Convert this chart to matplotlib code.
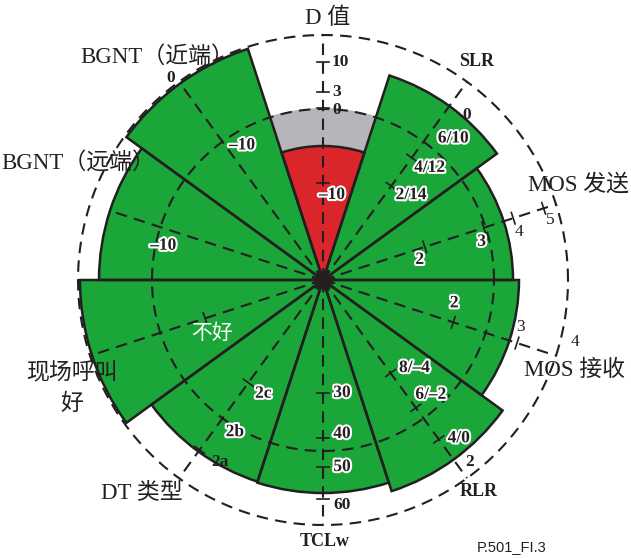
import numpy as np
import matplotlib
matplotlib.use("Agg")
from matplotlib import pyplot as plt
import matplotlib.patheffects as pe

plt.rcParams['font.family'] = ['Liberation Serif', 'Noto Sans CJK SC']

# sectors, counter-clockwise angle of each axis (deg) and reach of each sector
sector_names = ['D 值', 'SLR', 'MOS 发送', 'MOS 接收', 'RLR', 'TCLw',
                'DT 类型', '现场呼叫', 'BGNT（远端）', 'BGNT（近端）']
sector_deg = [90, 54, 18, -18, -54, -90, -126, -162, 162, 126]
sector_r = [172, 215, 190, 196, 222, 213, 212, 243, 224, 243]
d_red_r = 134
axis_end = [245, 245, 246, 246, 245, 244, 244, 242, 224, 242]

# scale marks along every axis
d_ticks = ['10', '3', '0', '–10']
d_tick_r = [218, 188, 172, 97]
slr_ticks = ['2/14', '4/12', '6/10', '0']
slr_tick_r = [116, 151, 186, 224]
mos_send_ticks = ['2', '3', '4', '5']
mos_send_tick_r = [107, 169, 200, 232]
mos_recv_ticks = ['2', '3', '4']
mos_recv_tick_r = [137, 204, 246]
rlr_ticks = ['8/–4', '6/–2', '4/0', '2']
rlr_tick_r = [115, 158, 197, 245]
tclw_ticks = ['30', '40', '50', '60']
tclw_tick_r = [113, 158, 187, 219]
dt_ticks = ['2c', '2b', '2a']
dt_tick_r = [127, 172, 210]
call_ticks = ['不好']
call_tick_r = [124]
bgnt_far_ticks = ['–10']
bgnt_far_tick_r = [169]
bgnt_near_ticks = ['–10', '0']
bgnt_near_tick_r = [170, 243]

ring_r = [171, 245]

W, H = 631, 558
green = '#1aa639'
red = '#da252b'
grey = '#b5b5ba'
ink = '#231f20'

fig = plt.figure(figsize=(W / 100, H / 100), dpi=100)
R = 252
cx, cy = 323, 278
ax = fig.add_axes([(cx - R) / W, (cy - R) / H, 2 * R / W, 2 * R / H], projection='polar')
ax.set_ylim(0, R)
ax.set_axis_off()

th = np.radians(sector_deg)
wid = np.radians(36)
green_r = [0] + sector_r[1:]

dash = (0, (5.5, 3.5))
tt = np.linspace(0, 2 * np.pi, 400)
ax.plot(tt, np.full_like(tt, ring_r[1]), color=ink, lw=1.5, ls=dash, zorder=0.5)

# fills first, outlines afterwards so no fill hides a neighbouring edge
ax.bar(th, green_r, width=wid, bottom=0, color=green, lw=0, zorder=1)
ax.bar(th[0], sector_r[0] - d_red_r, width=wid, bottom=d_red_r, color=grey, lw=0, zorder=1)
ax.bar(th[0], d_red_r, width=wid, bottom=0, color=red, lw=0, zorder=1)
ax.bar(th, green_r, width=wid, bottom=0, fill=False, edgecolor=ink, lw=1.8, zorder=2)
ax.bar(th[0], d_red_r, width=wid, bottom=0, fill=False, edgecolor=ink, lw=1.8, zorder=2)

ax.plot(tt, np.full_like(tt, ring_r[0]), color=ink, lw=1.5, ls=dash, zorder=3)
for t, e in zip(th, axis_end):
    ax.plot([t, t], [0, e], color=ink, lw=1.5, ls=dash, zorder=3)

ax.plot([0], [0], marker=(14, 1, 0), ms=17, color=ink, zorder=6)


def tick_mark(deg, r, half=6):
    t = np.radians(deg)
    x, y = r * np.cos(t), r * np.sin(t)
    nx, ny = -np.sin(t), np.cos(t)
    xs = np.array([x - half * nx, x + half * nx])
    ys = np.array([y - half * ny, y + half * ny])
    ax.plot(np.arctan2(ys, xs), np.hypot(xs, ys), color=ink, lw=1.2, zorder=4)


styles = {
    'halo': dict(color=ink, fontweight='bold', fontsize=12.5,
                 path_effects=[pe.withStroke(linewidth=3, foreground='white')]),
    'bold': dict(color=ink, fontweight='bold', fontsize=12.5),
    'plain': dict(color=ink, fontsize=12.5),
    'white': dict(color='white', fontsize=15, family=['Noto Sans CJK SC']),
}

scales = [
    (90, d_ticks, d_tick_r, [1, 1, 1, 1], ['bold', 'bold', 'bold', 'halo'],
     [(17, 0), (14, 0), (14, 2), (9, 12)]),
    (54, slr_ticks, slr_tick_r, [1, 1, 0, 0], ['halo', 'halo', 'halo', 'bold'],
     [(20, 9), (18, 10), (21, 9), (12, 16)]),
    (18, mos_send_ticks, mos_send_tick_r, [1, 1, 1, 1], ['halo', 'halo', 'plain', 'plain'],
     [(-5, 13), (-2, 14), (6, 14), (7, 12)]),
    (-18, mos_recv_ticks, mos_recv_tick_r, [1, 1, 0], ['halo', 'plain', 'plain'],
     [(1, -19), (3, -16), (18, -14)]),
    (-54, rlr_ticks, rlr_tick_r, [1, 1, 1, 0], ['halo', 'halo', 'halo', 'bold'],
     [(24, -5), (15, -13), (20, -1), (3, -16)]),
    (-90, tclw_ticks, tclw_tick_r, [1, 1, 1, 1], ['halo', 'halo', 'halo', 'bold'],
     [(19, 0), (19, -4), (19, 0), (19, 6)]),
    (-126, dt_ticks, dt_tick_r, [1, 0, 1], ['halo', 'halo', 'bold'],
     [(15, 11), (13, 13), (20, 12)]),
    (-162, call_ticks, call_tick_r, [1], ['white'], [(7, 15)]),
    (162, bgnt_far_ticks, bgnt_far_tick_r, [0], ['halo'], [(1, 18)]),
    (126, bgnt_near_ticks, bgnt_near_tick_r, [0, 0], ['halo', 'bold'], [(19, 3), (-9, -5)]),
]

for deg, labs, rs, marks, sty, offs in scales:
    for lab, r, m, s, (dx, dy) in zip(labs, rs, marks, sty, offs):
        if m:
            tick_mark(deg, r)
        ax.annotate(lab, xy=(np.radians(deg), r), xytext=(dx * 0.72, -dy * 0.72),
                    textcoords='offset points', ha='center', va='center',
                    zorder=7, annotation_clip=False, **styles[s])


def px(x, y):
    return x / W, 1 - y / H


# axis names around the dial
name_pos = [(328, 18), (477, 62), (578, 185), (574, 370), (479, 491), (325, 542),
            (142, 493), (72, 374), (78, 163), (157, 57)]
bold_names = {'SLR', 'RLR', 'TCLw'}
for name, (x, y) in zip(sector_names, name_pos):
    if name in bold_names:
        fig.text(*px(x, y), name, ha='center', va='center', fontsize=13,
                 fontweight='bold', color=ink)
    else:
        fig.text(*px(x, y), name, ha='center', va='center', fontsize=16.5, color=ink)
fig.text(*px(72, 404), '好', ha='center', va='center', fontsize=16.5, color=ink)
fig.text(*px(512, 547), 'P.501_FI.3', ha='center', va='center', fontsize=10.5,
         family='Liberation Sans', color=ink)

plt.savefig('out.png', dpi=100)
